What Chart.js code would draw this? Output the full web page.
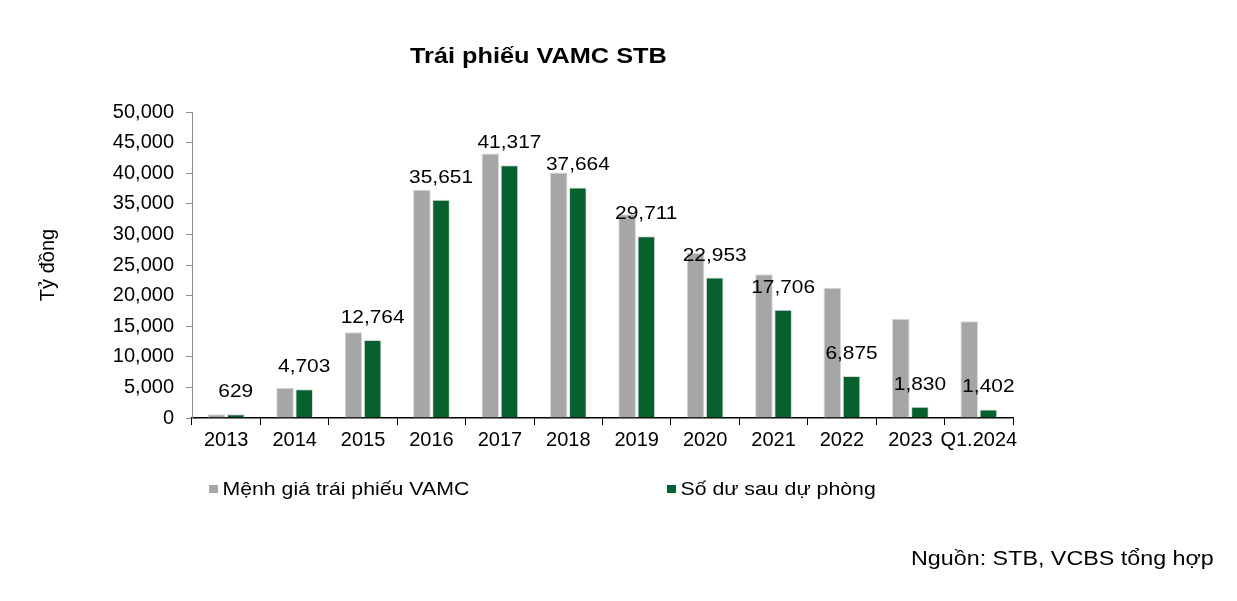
<!DOCTYPE html>
<html>
<head>
<meta charset="utf-8">
<script src="https://cdn.jsdelivr.net/npm/chart.js@4.4.1/dist/chart.umd.min.js"></script>
<style>
  body { margin: 0; background: #fff; font-family: "Liberation Sans", Arial, sans-serif; }
  #wrap { position: relative; width: 1237px; height: 601px; }
  #chart { position: absolute; left: 0; top: 0; }
  .txt { position: absolute; color: #000; white-space: nowrap; transform-origin: 0 0; }
  #title { left: 410px; top: 43px; font-size: 22px; font-weight: bold; transform: scaleX(1.15); }
  .leg { top: 478px; font-size: 19px; transform: scaleX(1.12); }
  .leg i { display: inline-block; width: 8px; height: 8px; margin-right: 4px; vertical-align: 2px; }
  #source { left: 911px; top: 547px; font-size: 20px; transform: scaleX(1.165); }
</style>
</head>
<body>
<div id="wrap">
  <canvas id="chart" width="1237" height="601"></canvas>
  <div class="txt" id="title">Trái phiếu VAMC STB</div>
  <div class="txt leg" style="left:209px"><i style="background:#A6A6A6"></i>Mệnh giá trái phiếu VAMC</div>
  <div class="txt leg" style="left:667px"><i style="background:#07612F"></i>Số dư sau dự phòng</div>
  <div class="txt" id="source">Nguồn: STB, VCBS tổng hợp</div>
</div>
<script>
// so lieu doc tu hinh (ty dong)
const nam = ["2013", "2014", "2015", "2016", "2017", "2018", "2019", "2020", "2021", "2022", "2023", "Q1.2024"];
const menhGia = [620, 4950, 14000, 37300, 43200, 40100, 33300, 27000, 23500, 21300, 16200, 15800];
const soDu = [629, 4703, 12764, 35651, 41317, 37664, 29711, 22953, 17706, 6875, 1830, 1402];
const yTicks = [0, 5000, 10000, 15000, 20000, 25000, 30000, 35000, 40000, 45000, 50000];

const FONT = "'Liberation Sans', Arial, sans-serif";
const fmt = v => v.toLocaleString("en-US");

// nhan so lieu tren cot xanh
const nhanCot = {
  id: "nhanCot",
  afterDatasetsDraw(chart) {
    const ctx = chart.ctx;
    const meta = chart.getDatasetMeta(1);
    meta.data.forEach(function(bar, i) {
      ctx.save();
      ctx.translate(bar.x, bar.y - 17);
      ctx.scale(1.1, 1);
      ctx.font = "19px " + FONT;
      ctx.fillStyle = "#000";
      ctx.textAlign = "center";
      ctx.textBaseline = "alphabetic";
      ctx.fillText(fmt(soDu[i]), 0, 0);
      ctx.restore();
    });
  }
};

const ctx = document.getElementById("chart").getContext("2d");
new Chart(ctx, {
  type: "bar",
  data: {
    labels: nam,
    datasets: [
      {
        label: "Mệnh giá trái phiếu VAMC",
        data: menhGia,
        backgroundColor: "#A6A6A6",
        borderColor: "#D9D9D9",
        borderWidth: 1,
        categoryPercentage: 0.56,
        barPercentage: 0.92
      },
      {
        label: "Số dư sau dự phòng",
        data: soDu,
        backgroundColor: "#07612F",
        borderColor: "#D9D9D9",
        borderWidth: 1,
        categoryPercentage: 0.56,
        barPercentage: 0.92
      }
    ]
  },
  options: {
    responsive: false,
    animation: false,
    layout: { padding: { top: 112, right: 224, left: 0, bottom: 0 } },
    plugins: {
      legend: { display: false },
      title: { display: false },
      tooltip: { enabled: false }
    },
    scales: {
      x: {
        afterFit: function(scale) { scale.height = 183; },
        grid: { display: true, drawOnChartArea: false, offset: true, tickLength: 7, color: "#000" },
        border: { color: "#000", width: 1.5 },
        ticks: { color: "#000", font: { family: FONT, size: 20 }, padding: 3, maxRotation: 0, autoSkip: false }
      },
      y: {
        min: 0,
        max: 50000,
        afterFit: function(scale) { scale.width = 192; },
        afterBuildTicks: function(scale) { scale.ticks = yTicks.map(v => ({ value: v })); },
        grid: { display: true, drawOnChartArea: false, tickLength: 6, color: "#8C8C8C" },
        border: { color: "#8C8C8C", width: 1 },
        title: {
          display: true,
          text: "Tỷ đồng",
          color: "#000",
          font: { family: FONT, size: 20 },
          padding: { top: 36, bottom: 0 }
        },
        ticks: {
          color: "#000",
          font: { family: FONT, size: 20 },
          padding: 12,
          callback: v => fmt(v)
        }
      }
    }
  },
  plugins: [nhanCot]
});
</script>
</body>
</html>
